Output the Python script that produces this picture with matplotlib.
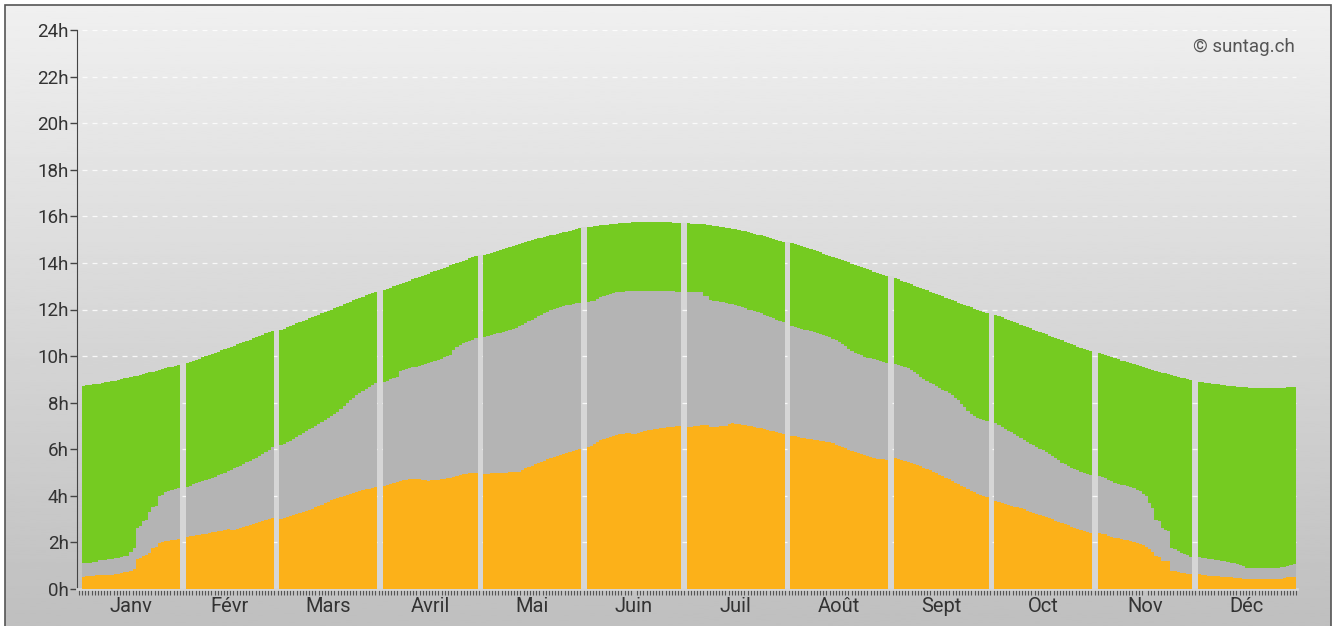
import numpy as np
import matplotlib
matplotlib.use("Agg")
import matplotlib.pyplot as plt
from matplotlib.patches import Rectangle

plt.rcParams['font.family'] = ['Roboto', 'DejaVu Sans']

months = ['Janv', 'Févr', 'Mars', 'Avril', 'Mai', 'Juin',
          'Juil', 'Août', 'Sept', 'Oct', 'Nov', 'Déc']

# durée du jour (haut du vert), en heures
day_length = [
    [8.73, 8.74, 8.76, 8.78, 8.80, 8.82, 8.85, 8.87, 8.90, 8.92, 8.95, 8.98, 9.01, 9.04, 9.07, 9.10,
     9.13, 9.16, 9.20, 9.23, 9.26, 9.30, 9.33, 9.37, 9.40, 9.44, 9.47, 9.51, 9.55, 9.59, 9.63],
    [9.69, 9.74, 9.79, 9.84, 9.89, 9.94, 9.99, 10.04, 10.09, 10.14, 10.19, 10.24, 10.30, 10.35,
     10.40, 10.45, 10.50, 10.55, 10.60, 10.66, 10.71, 10.76, 10.81, 10.86, 10.92, 10.97, 11.02, 11.07],
    [11.12, 11.18, 11.23, 11.29, 11.34, 11.40, 11.45, 11.51, 11.56, 11.62, 11.67, 11.73, 11.78, 11.84,
     11.89, 11.95, 12.00, 12.06, 12.11, 12.17, 12.22, 12.28, 12.33, 12.39, 12.44, 12.50, 12.55, 12.61,
     12.66, 12.72, 12.77],
    [12.84, 12.89, 12.94, 12.99, 13.04, 13.09, 13.14, 13.19, 13.24, 13.29, 13.34, 13.39, 13.44, 13.49,
     13.54, 13.59, 13.64, 13.69, 13.74, 13.79, 13.84, 13.89, 13.94, 13.99, 14.04, 14.09, 14.14, 14.19,
     14.24, 14.29],
    [14.34, 14.39, 14.43, 14.48, 14.52, 14.57, 14.61, 14.65, 14.70, 14.74, 14.78, 14.82, 14.86, 14.90,
     14.94, 14.98, 15.01, 15.05, 15.08, 15.12, 15.15, 15.18, 15.22, 15.25, 15.28, 15.31, 15.34, 15.37,
     15.40, 15.44, 15.48],
    [15.53, 15.55, 15.57, 15.59, 15.61, 15.63, 15.64, 15.66, 15.67, 15.69, 15.70, 15.71, 15.72, 15.73,
     15.74, 15.75, 15.76, 15.76, 15.77, 15.77, 15.77, 15.77, 15.76, 15.76, 15.75, 15.75, 15.74, 15.73,
     15.72, 15.71],
    [15.70, 15.69, 15.68, 15.67, 15.66, 15.65, 15.63, 15.62, 15.60, 15.58, 15.56, 15.54, 15.51, 15.49,
     15.46, 15.44, 15.41, 15.38, 15.35, 15.32, 15.28, 15.25, 15.21, 15.18, 15.14, 15.10, 15.06, 15.02,
     14.98, 14.94, 14.90],
    [14.84, 14.80, 14.76, 14.72, 14.67, 14.63, 14.59, 14.54, 14.50, 14.45, 14.40, 14.36, 14.31, 14.26,
     14.22, 14.17, 14.12, 14.07, 14.02, 13.97, 13.93, 13.88, 13.83, 13.78, 13.73, 13.68, 13.63, 13.58,
     13.53, 13.48, 13.43],
    [13.34, 13.29, 13.24, 13.19, 13.13, 13.08, 13.03, 12.98, 12.93, 12.87, 12.82, 12.77, 12.72, 12.67,
     12.61, 12.56, 12.51, 12.46, 12.41, 12.35, 12.30, 12.25, 12.20, 12.15, 12.09, 12.04, 11.99, 11.94,
     11.89, 11.84],
    [11.76, 11.71, 11.66, 11.61, 11.55, 11.50, 11.45, 11.40, 11.35, 11.29, 11.24, 11.19, 11.14, 11.09,
     11.03, 10.98, 10.93, 10.88, 10.83, 10.77, 10.72, 10.67, 10.62, 10.57, 10.51, 10.46, 10.41, 10.36,
     10.30, 10.25, 10.20],
    [10.12, 10.08, 10.03, 9.99, 9.94, 9.90, 9.86, 9.81, 9.77, 9.73, 9.69, 9.65, 9.61, 9.57, 9.53, 9.49,
     9.45, 9.41, 9.37, 9.33, 9.29, 9.26, 9.22, 9.18, 9.15, 9.11, 9.08, 9.05, 9.01, 8.98],
    [8.90, 8.88, 8.86, 8.84, 8.82, 8.80, 8.78, 8.77, 8.75, 8.73, 8.72, 8.70, 8.69, 8.68, 8.67, 8.66,
     8.65, 8.64, 8.63, 8.63, 8.62, 8.62, 8.62, 8.62, 8.62, 8.63, 8.64, 8.65, 8.66, 8.67, 8.69],
]

# haut de la zone grise (ensoleillement possible), en heures
possible = [
    [1.13, 1.13, 1.13, 1.15, 1.18, 1.25, 1.25, 1.26, 1.28, 1.30, 1.34, 1.35, 1.36, 1.42, 1.42, 1.61,
     1.76, 2.62, 2.70, 2.90, 2.95, 3.30, 3.50, 3.55, 4.00, 4.05, 4.18, 4.20, 4.25, 4.30, 4.34],
    [4.39, 4.44, 4.49, 4.54, 4.59, 4.63, 4.68, 4.73, 4.78, 4.83, 4.88, 4.94, 5.00, 5.06, 5.12, 5.18,
     5.24, 5.30, 5.37, 5.44, 5.50, 5.57, 5.64, 5.71, 5.78, 5.88, 5.98, 6.08],
    [6.18, 6.24, 6.30, 6.36, 6.45, 6.53, 6.62, 6.70, 6.78, 6.86, 6.93, 7.00, 7.08, 7.17, 7.25, 7.33,
     7.42, 7.52, 7.62, 7.73, 7.85, 7.98, 8.10, 8.22, 8.33, 8.42, 8.52, 8.60, 8.68, 8.76, 8.83],
    [8.90, 8.95, 9.00, 9.05, 9.10, 9.35, 9.40, 9.44, 9.48, 9.52, 9.55, 9.58, 9.62, 9.66, 9.70, 9.74,
     9.78, 9.83, 9.88, 9.94, 10.00, 10.05, 10.25, 10.40, 10.48, 10.55, 10.61, 10.66, 10.71, 10.76],
    [10.83, 10.86, 10.90, 10.93, 10.97, 11.00, 11.04, 11.08, 11.12, 11.16, 11.22, 11.28, 11.35, 11.42,
     11.50, 11.57, 11.64, 11.71, 11.78, 11.85, 11.91, 11.96, 12.01, 12.05, 12.10, 12.14, 12.18, 12.21,
     12.24, 12.27, 12.29],
    [12.34, 12.36, 12.38, 12.45, 12.55, 12.58, 12.62, 12.68, 12.71, 12.73, 12.75, 12.77, 12.78, 12.79,
     12.80, 12.80, 12.81, 12.81, 12.81, 12.81, 12.81, 12.81, 12.80, 12.80, 12.79, 12.79, 12.78, 12.78,
     12.77, 12.77],
    [12.77, 12.77, 12.76, 12.75, 12.74, 12.60, 12.58, 12.42, 12.38, 12.36, 12.34, 12.31, 12.28, 12.25,
     12.22, 12.19, 12.15, 12.10, 12.05, 12.00, 11.96, 11.92, 11.88, 11.83, 11.78, 11.72, 11.67, 11.62,
     11.56, 11.50, 11.45],
    [11.29, 11.26, 11.22, 11.18, 11.14, 11.10, 11.06, 11.02, 10.98, 10.94, 10.90, 10.85, 10.80, 10.74,
     10.68, 10.62, 10.52, 10.42, 10.30, 10.20, 10.15, 10.10, 10.04, 9.98, 9.93, 9.90, 9.86, 9.82,
     9.78, 9.75, 9.72],
    [9.65, 9.62, 9.58, 9.54, 9.47, 9.40, 9.32, 9.23, 9.12, 9.00, 8.93, 8.86, 8.79, 8.71, 8.64, 8.56,
     8.48, 8.40, 8.31, 8.22, 8.10, 7.95, 7.80, 7.64, 7.52, 7.43, 7.36, 7.30, 7.26, 7.23],
    [7.11, 7.03, 6.95, 6.87, 6.80, 6.73, 6.65, 6.57, 6.48, 6.40, 6.32, 6.24, 6.17, 6.10, 6.03, 5.97,
     5.90, 5.81, 5.72, 5.62, 5.52, 5.42, 5.35, 5.28, 5.21, 5.15, 5.09, 5.03, 4.98, 4.93, 4.89],
    [4.85, 4.80, 4.75, 4.70, 4.62, 4.56, 4.50, 4.47, 4.45, 4.42, 4.38, 4.32, 4.25, 4.20, 4.10, 4.00,
     3.68, 3.46, 2.96, 2.90, 2.61, 2.55, 2.50, 1.75, 1.70, 1.62, 1.56, 1.50, 1.45, 1.39],
    [1.36, 1.34, 1.31, 1.28, 1.27, 1.26, 1.24, 1.22, 1.19, 1.16, 1.13, 1.11, 1.08, 1.05, 1.00, 0.92,
     0.89, 0.89, 0.89, 0.89, 0.89, 0.89, 0.89, 0.89, 0.89, 0.90, 0.93, 0.96, 0.99, 1.03, 1.07],
]

# ensoleillement (orange), en heures
sunshine = [
    [0.53, 0.55, 0.55, 0.57, 0.58, 0.58, 0.60, 0.60, 0.62, 0.62, 0.65, 0.66, 0.68, 0.72, 0.75, 0.77,
     0.84, 1.29, 1.35, 1.42, 1.48, 1.53, 1.75, 1.80, 1.99, 2.02, 2.06, 2.08, 2.10, 2.12, 2.13],
    [2.25, 2.27, 2.29, 2.31, 2.33, 2.36, 2.38, 2.40, 2.43, 2.45, 2.48, 2.50, 2.53, 2.56, 2.52, 2.55,
     2.58, 2.62, 2.66, 2.70, 2.74, 2.78, 2.82, 2.86, 2.90, 2.95, 3.00, 3.05],
    [2.99, 3.03, 3.08, 3.12, 3.16, 3.20, 3.25, 3.30, 3.35, 3.40, 3.45, 3.50, 3.56, 3.62, 3.68, 3.74,
     3.80, 3.85, 3.90, 3.95, 4.00, 4.05, 4.10, 4.14, 4.18, 4.22, 4.25, 4.28, 4.31, 4.34, 4.37],
    [4.42, 4.46, 4.50, 4.55, 4.60, 4.64, 4.67, 4.69, 4.71, 4.71, 4.71, 4.71, 4.70, 4.70, 4.65, 4.66,
     4.68, 4.70, 4.72, 4.74, 4.76, 4.78, 4.80, 4.85, 4.90, 4.94, 4.95, 4.96, 4.97, 4.97],
    [4.94, 4.95, 4.96, 4.96, 4.97, 4.98, 4.99, 5.00, 5.01, 5.02, 5.03, 5.04, 5.10, 5.18, 5.25, 5.30,
     5.36, 5.42, 5.47, 5.51, 5.56, 5.61, 5.66, 5.71, 5.76, 5.80, 5.84, 5.88, 5.92, 5.96, 6.00],
    [6.11, 6.15, 6.22, 6.30, 6.38, 6.43, 6.48, 6.53, 6.57, 6.61, 6.64, 6.67, 6.68, 6.69, 6.66, 6.67,
     6.70, 6.74, 6.78, 6.81, 6.84, 6.87, 6.89, 6.91, 6.93, 6.95, 6.96, 6.97, 6.99, 7.00],
    [6.94, 6.97, 6.99, 7.01, 7.03, 7.04, 7.02, 6.96, 6.95, 6.97, 6.99, 7.00, 7.00, 7.07, 7.11, 7.10,
     7.08, 7.05, 7.02, 7.00, 6.98, 6.96, 6.93, 6.90, 6.87, 6.83, 6.80, 6.77, 6.73, 6.70, 6.66],
    [6.57, 6.55, 6.52, 6.50, 6.48, 6.46, 6.44, 6.41, 6.39, 6.37, 6.35, 6.32, 6.29, 6.25, 6.20, 6.15,
     6.10, 6.04, 5.98, 5.93, 5.88, 5.84, 5.80, 5.75, 5.70, 5.66, 5.63, 5.60, 5.58, 5.56, 5.54],
    [5.61, 5.58, 5.55, 5.50, 5.45, 5.40, 5.36, 5.31, 5.26, 5.20, 5.14, 5.09, 5.03, 4.97, 4.91, 4.84,
     4.78, 4.71, 4.64, 4.57, 4.50, 4.43, 4.36, 4.29, 4.22, 4.16, 4.10, 4.04, 3.99, 3.94],
    [3.78, 3.74, 3.70, 3.66, 3.62, 3.58, 3.54, 3.50, 3.46, 3.42, 3.37, 3.32, 3.27, 3.22, 3.17, 3.12,
     3.07, 3.03, 2.99, 2.94, 2.89, 2.83, 2.78, 2.73, 2.68, 2.63, 2.58, 2.53, 2.48, 2.43, 2.39],
    [2.42, 2.38, 2.34, 2.28, 2.22, 2.20, 2.18, 2.15, 2.12, 2.10, 2.06, 2.02, 1.97, 1.92, 1.87, 1.80,
     1.72, 1.60, 1.40, 1.36, 1.22, 1.22, 1.20, 0.79, 0.76, 0.73, 0.70, 0.68, 0.66, 0.64],
    [0.63, 0.61, 0.59, 0.57, 0.56, 0.55, 0.54, 0.53, 0.52, 0.51, 0.50, 0.49, 0.48, 0.46, 0.44, 0.42,
     0.42, 0.42, 0.42, 0.42, 0.42, 0.42, 0.42, 0.42, 0.42, 0.42, 0.44, 0.47, 0.50, 0.50, 0.50],
]

hour_ticks = list(range(0, 25, 2))

GAP = 1.8  # espace entre les mois, en jours

c_sun = '#fcb119'
c_gray = '#b4b4b4'
c_green = '#75cb21'
c_sep = '#d6d6d6'

fig = plt.figure(figsize=(13.36, 6.26), dpi=100, facecolor='white')

# fond en dégradé + cadre
bg = fig.add_axes([5 / 1336, 0, 1326 / 1336, 621 / 626])
grad = np.linspace(0.94, 0.75, 256).reshape(-1, 1)
bg.imshow(grad, aspect='auto', cmap='gray', vmin=0, vmax=1, extent=[0, 1, 0, 1])
bg.set_axis_off()
fig.patches.append(Rectangle((5 / 1336, -0.01), 1326 / 1336, 621 / 626 + 0.01,
                             transform=fig.transFigure, fill=False,
                             edgecolor='#555555', linewidth=1.2))

ax = fig.add_axes([77 / 1336, 37 / 626, 1220 / 1336, 559 / 626])
ax.set_facecolor('none')

starts = []
pos = 0.0
for m in range(12):
    starts.append(pos)
    n = len(day_length[m])
    edges = pos + np.arange(n + 1)
    sun = np.array(sunshine[m])
    pss = np.array(possible[m])
    day = np.array(day_length[m])
    # une barre par jour, dessinée en escalier pour éviter les joints
    ax.stairs(sun, edges, baseline=0, fill=True, color=c_sun, zorder=3)
    ax.stairs(pss, edges, baseline=sun, fill=True, color=c_gray, zorder=3)
    ax.stairs(day, edges, baseline=pss, fill=True, color=c_green, zorder=3)
    pos += n + GAP
x_end = pos - GAP

# séparateurs entre les mois
for m in range(1, 12):
    h = max(day_length[m - 1][-1], day_length[m][0])
    ax.bar(starts[m] - GAP / 2, h, width=GAP, color=c_sep, linewidth=0, zorder=1)

# grille
ax.hlines(hour_ticks[1:], 0, x_end, colors='white', linestyles=(0, (4, 4)),
          linewidth=0.9, alpha=0.85, zorder=2)

ax.set_xlim(-1.6, x_end + 0.4)
ax.set_ylim(0, 24)

ax.set_yticks(hour_ticks)
ax.set_yticklabels([f'{h}h' for h in hour_ticks])
ax.tick_params(axis='y', length=5, width=1, color='#444444', labelsize=13.5,
               labelcolor='#333333', pad=1)

centers = [starts[m] + len(day_length[m]) / 2 for m in range(12)]
ax.set_xticks(centers)
ax.set_xticklabels(months)
ax.set_xticks(np.arange(-1.0, x_end + 0.5, 1.0), minor=True)
ax.tick_params(axis='x', which='major', length=0, labelsize=14.5,
               labelcolor='#333333', pad=6)
ax.tick_params(axis='x', which='minor', length=4, width=0.8, color='#555555')

for s in ['top', 'right']:
    ax.spines[s].set_visible(False)
ax.spines['left'].set_color('#444444')
ax.spines['bottom'].set_color('#d4d4d4')
ax.spines['bottom'].set_linewidth(2)

ax.text(0.9985, 0.969, '© suntag.ch', transform=ax.transAxes, ha='right', va='center',
        fontsize=13.5, color='#555555')

fig.savefig('out.png', dpi=100, facecolor='white')
